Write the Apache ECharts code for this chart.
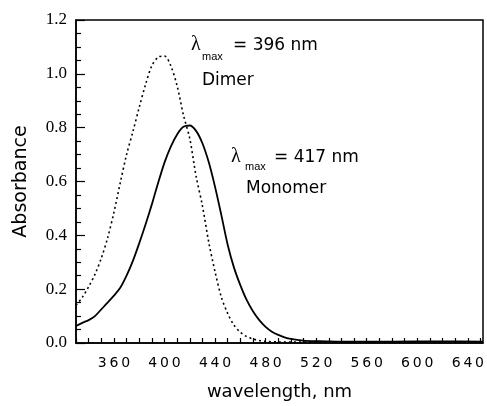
<!DOCTYPE html>
<html>
<head>
<meta charset="utf-8">
<script src="https://cdn.jsdelivr.net/npm/echarts@6/dist/echarts.min.js"></script>
<style>
  html, body { margin: 0; padding: 0; background: #fff; }
  #chart { width: 487px; height: 406px; }
</style>
</head>
<body>
<div id="chart"></div>
<script>
// monomer (solid) spectrum
var monoX = [330, 335, 340, 345, 350, 355, 360, 365, 370, 375, 380, 385, 390, 395, 400, 405, 410, 415, 420, 425, 430, 435, 440, 445, 450, 455, 460, 465, 470, 475, 480, 485, 490, 495, 500, 510, 520, 540, 580, 620, 652]
var monoY = [0.063, 0.075, 0.085, 0.1, 0.125, 0.15, 0.176, 0.205, 0.25, 0.305, 0.37, 0.44, 0.515, 0.595, 0.67, 0.73, 0.775, 0.803, 0.808, 0.788, 0.742, 0.672, 0.58, 0.475, 0.365, 0.28, 0.215, 0.16, 0.118, 0.085, 0.06, 0.042, 0.03, 0.021, 0.015, 0.009, 0.007, 0.005, 0.005, 0.006, 0.005]
// dimer (dotted) spectrum
var dimerX = [330, 335, 340, 345, 350, 355, 360, 365, 370, 375, 380, 385, 390, 395, 400, 405, 410, 415, 420, 425, 430, 435, 440, 445, 450, 455, 460, 465, 470, 475, 480, 490, 520, 560, 600, 652]
var dimerY = [0.14, 0.17, 0.209, 0.255, 0.315, 0.39, 0.485, 0.595, 0.7, 0.785, 0.875, 0.96, 1.03, 1.062, 1.066, 1.03, 0.955, 0.847, 0.76, 0.62, 0.51, 0.375, 0.265, 0.17, 0.11, 0.066, 0.04, 0.024, 0.015, 0.009, 0.006, 0.004, 0.003, 0.003, 0.003, 0.003]

var xLabels = [360, 400, 440, 480, 520, 560, 600, 640]
var yTitle = 'Absorbance'
var xTitle = 'wavelength, nm'

function pairs(xs, ys) {
  var out = []
  for (var i = 0; i < xs.length; i++) out.push([xs[i], ys[i]])
  return out
}
function spaced(s) {
  return String(s).split('').join('\u2009')
}

var chart = echarts.init(document.getElementById('chart'))
var sans = 'DejaVu Sans'

chart.setOption({
  animation: false,
  grid: {
    left: 76,
    right: 4,
    top: 20,
    bottom: 57,
    show: true,
    borderColor: '#000',
    borderWidth: 1.5
  },
  xAxis: {
    type: 'value',
    min: 330,
    max: 652,
    interval: 10,
    name: xTitle,
    nameLocation: 'middle',
    nameGap: 40,
    nameTextStyle: { fontFamily: sans, fontSize: 18, color: '#000' },
    axisLine: { lineStyle: { color: '#000', width: 1.5 } },
    axisTick: { inside: true, length: 5, lineStyle: { color: '#000', width: 1.2 } },
    splitLine: { show: false },
    axisLabel: {
      margin: 13,
      fontFamily: sans,
      fontSize: 14,
      color: '#000',
      showMaxLabel: false,
      formatter: function (v) {
        return xLabels.indexOf(v) >= 0 ? spaced(v) : ''
      }
    }
  },
  yAxis: {
    type: 'value',
    min: 0,
    max: 1.2,
    interval: 0.2,
    name: yTitle,
    nameLocation: 'middle',
    nameGap: 45,
    nameTextStyle: { fontFamily: sans, fontSize: 19, color: '#000' },
    axisLine: { show: true, lineStyle: { color: '#000', width: 1.5 } },
    axisTick: { inside: true, length: 9, lineStyle: { color: '#000', width: 1.2 } },
    minorTick: { show: true, splitNumber: 4, length: 5, lineStyle: { color: '#000', width: 1.2 } },
    splitLine: { show: false },
    axisLabel: {
      margin: 9,
      fontFamily: 'Liberation Serif',
      fontSize: 17,
      color: '#000',
      formatter: function (v) { return v.toFixed(1) }
    }
  },
  series: [
    {
      name: 'Dimer',
      type: 'line',
      data: pairs(dimerX, dimerY),
      smooth: 0.3,
      showSymbol: false,
      lineStyle: { color: '#000', width: 1.6, type: [2, 3] }
    },
    {
      name: 'Monomer',
      type: 'line',
      data: pairs(monoX, monoY),
      smooth: 0.3,
      showSymbol: false,
      lineStyle: { color: '#000', width: 1.8 }
    }
  ],
  graphic: [
    { type: 'text', left: 191, top: 35, style: { text: 'λ', font: '20px "Liberation Serif"', fill: '#000' } },
    { type: 'text', left: 202, top: 51, style: { text: 'max', font: '11px "Liberation Sans"', fill: '#000' } },
    { type: 'text', left: 233, top: 37, style: { text: '= 396 nm', font: '17px "DejaVu Sans"', fill: '#000' } },
    { type: 'text', left: 202, top: 72, style: { text: 'Dimer', font: '17px "DejaVu Sans"', fill: '#000' } },
    { type: 'text', left: 231, top: 147, style: { text: 'λ', font: '20px "Liberation Serif"', fill: '#000' } },
    { type: 'text', left: 245, top: 161, style: { text: 'max', font: '11px "Liberation Sans"', fill: '#000' } },
    { type: 'text', left: 274, top: 149, style: { text: '= 417 nm', font: '17px "DejaVu Sans"', fill: '#000' } },
    { type: 'text', left: 246, top: 180, style: { text: 'Monomer', font: '17px "DejaVu Sans"', fill: '#000' } }
  ]
})
</script>
</body>
</html>
